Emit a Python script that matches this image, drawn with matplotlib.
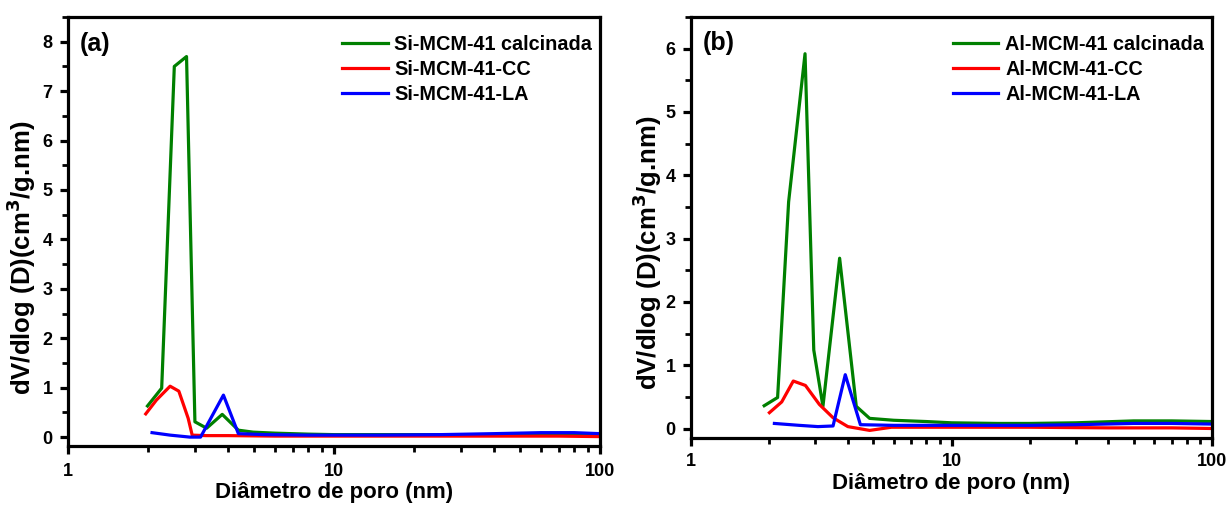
import matplotlib
matplotlib.use("Agg")
import matplotlib.pyplot as plt
from matplotlib.ticker import LogLocator, FixedLocator, FixedFormatter, MultipleLocator, NullFormatter

plt.rcParams['font.family'] = ['Liberation Sans', 'DejaVu Sans']
plt.rcParams['font.weight'] = 'bold'
plt.rcParams['mathtext.default'] = 'bf'

# Pore size distributions (BJH), diameter in nm
si_calc_d = [1.99, 2.25, 2.51, 2.79, 3.00, 3.32, 3.80, 4.37, 4.97, 6.0, 8.0, 10.0, 15.0, 25.0, 40.0, 60.0, 80.0, 100.0]
si_calc_v = [0.63, 0.99, 7.50, 7.70, 0.31, 0.18, 0.46, 0.14, 0.10, 0.08, 0.06, 0.05, 0.05, 0.05, 0.05, 0.05, 0.05, 0.04]

si_cc_d = [1.96, 2.15, 2.42, 2.61, 2.83, 2.93, 3.3, 4.0, 6.0, 10.0, 20.0, 40.0, 70.0, 100.0]
si_cc_v = [0.47, 0.75, 1.03, 0.93, 0.38, 0.04, 0.03, 0.03, 0.02, 0.02, 0.02, 0.02, 0.02, 0.01]

si_la_d = [2.07, 2.42, 2.87, 3.15, 3.84, 4.37, 5.5, 8.0, 10.0, 15.0, 25.0, 40.0, 60.0, 80.0, 100.0]
si_la_v = [0.09, 0.04, 0.00, 0.00, 0.85, 0.07, 0.05, 0.04, 0.04, 0.04, 0.05, 0.07, 0.09, 0.09, 0.07]

al_calc_d = [1.91, 2.15, 2.37, 2.74, 2.96, 3.21, 3.72, 4.31, 4.85, 6.0, 8.0, 10.0, 15.0, 20.0, 30.0, 50.0, 70.0, 100.0]
al_calc_v = [0.36, 0.49, 3.58, 5.92, 1.24, 0.35, 2.69, 0.35, 0.16, 0.13, 0.11, 0.09, 0.08, 0.08, 0.09, 0.12, 0.12, 0.11]

al_cc_d = [2.00, 2.23, 2.47, 2.75, 3.11, 3.51, 4.00, 4.85, 5.88, 8.0, 10.0, 20.0, 40.0, 70.0, 100.0]
al_cc_v = [0.25, 0.42, 0.75, 0.68, 0.38, 0.17, 0.03, -0.03, 0.02, 0.02, 0.02, 0.02, 0.01, 0.01, 0.00]

al_la_d = [2.09, 2.6, 3.07, 3.51, 3.91, 4.47, 6.0, 10.0, 20.0, 30.0, 50.0, 70.0, 100.0]
al_la_v = [0.08, 0.05, 0.03, 0.04, 0.85, 0.06, 0.05, 0.05, 0.05, 0.06, 0.08, 0.08, 0.07]

si_labels = ['Si-MCM-41 calcinada', 'Si-MCM-41-CC', 'Si-MCM-41-LA']
al_labels = ['Al-MCM-41 calcinada', 'Al-MCM-41-CC', 'Al-MCM-41-LA']
colors = ['#008000', '#ff0000', '#0000ff']
x_ticks = [1, 10, 100]
x_ticklabels = ['1', '10', '100']

fig = plt.figure(figsize=(12.31, 5.07), dpi=100)

ax_a = fig.add_axes([68 / 1231, 1 - 446 / 507, (600 - 68) / 1231, (446 - 17) / 507])
ax_b = fig.add_axes([691 / 1231, 1 - 438 / 507, (1212 - 691) / 1231, (438 - 17) / 507])


def style(ax, ymax, ymin, ylabelpad, ylabel_y, xpad, xlabelpad):
    ax.set_xscale('log')
    ax.set_xlim(1, 100)
    ax.set_ylim(ymin, ymax)
    for s in ax.spines.values():
        s.set_linewidth(2.3)
    ax.xaxis.set_major_locator(FixedLocator(x_ticks))
    ax.xaxis.set_major_formatter(FixedFormatter(x_ticklabels))
    ax.xaxis.set_minor_locator(LogLocator(base=10, subs=range(2, 10)))
    ax.xaxis.set_minor_formatter(NullFormatter())
    ax.yaxis.set_major_locator(MultipleLocator(1))
    ax.yaxis.set_minor_locator(MultipleLocator(0.5))
    ax.tick_params(which='major', direction='out', length=6, width=2.3,
                   labelsize=13, top=False, right=False, pad=5)
    ax.tick_params(axis='x', which='major', pad=xpad)
    ax.tick_params(which='minor', direction='out', length=4, width=2.0,
                   top=False, right=False)
    for lab in ax.get_xticklabels() + ax.get_yticklabels():
        lab.set_fontweight('bold')
    ax.set_xlabel('Diâmetro de poro (nm)', fontsize=16, fontweight='bold', labelpad=xlabelpad)
    ax.set_ylabel('dV/dlog (D)(cm$^3$/g.nm)', fontsize=18.5, fontweight='bold',
                  labelpad=ylabelpad)
    ax.yaxis.label.set_y(ylabel_y)


for d, v, lab, c in zip([si_calc_d, si_cc_d, si_la_d], [si_calc_v, si_cc_v, si_la_v], si_labels, colors):
    ax_a.plot(d, v, color=c, lw=2.3, label=lab)
for d, v, lab, c in zip([al_calc_d, al_cc_d, al_la_d], [al_calc_v, al_cc_v, al_la_v], al_labels, colors):
    ax_b.plot(d, v, color=c, lw=2.3, label=lab)

style(ax_a, 8.5, -0.18, 3, 0.44, 6, 2)
style(ax_b, 6.5, -0.15, 1, 0.44, 5, 2)

for ax, tag in [(ax_a, '(a)'), (ax_b, '(b)')]:
    ax.text(0.022, 0.938, tag, transform=ax.transAxes, fontsize=18, fontweight='bold',
            ha='left', va='center')
    ax.legend(loc='upper right', frameon=False, handlelength=2.3,
              handletextpad=0.35, labelspacing=0.3, borderaxespad=0.2,
              bbox_to_anchor=(1.008, 0.985), prop={'weight': 'bold', 'size': 14.3})

fig.savefig('out.png', dpi=100)
